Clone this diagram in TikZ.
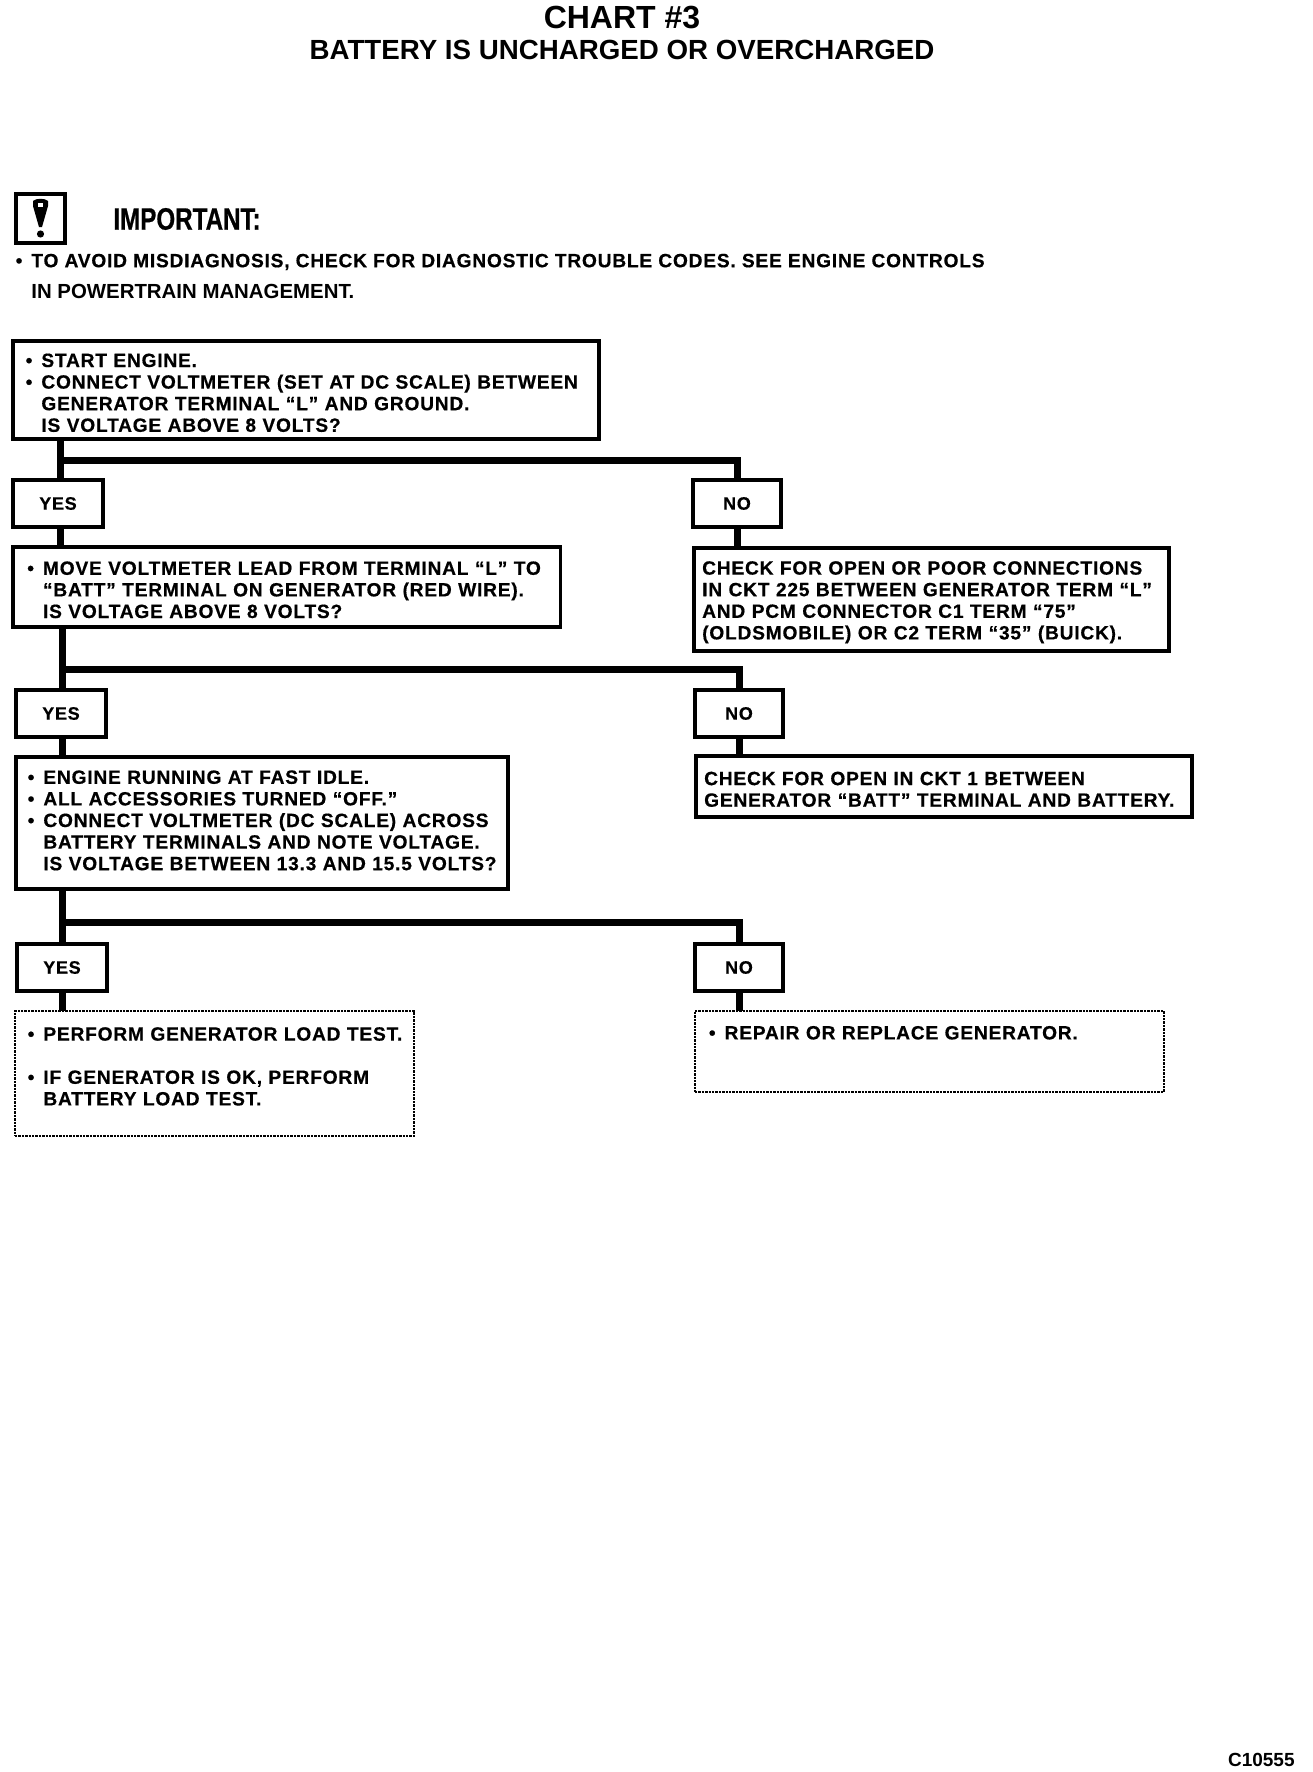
\documentclass[tikz,border=0pt]{standalone}
\usepackage{fontspec}
\setmainfont{Liberation Sans}[LetterSpace=4,BoldFont={Liberation Sans Bold},BoldFeatures={FakeBold=.5}]
\newfontfamily\plainfont{Liberation Sans Bold}
\newfontfamily\tightfont[FakeStretch=0.78,FakeBold=.6]{Liberation Sans Bold}
\usepackage{tikz}
\tikzstyle{qbox}=[draw, line width=1.7pt, outer sep=0pt, anchor=north west, align=left, inner xsep=3pt, inner ysep=0pt, font=\bfseries\fontsize{9.6}{10.8}\selectfont]
\tikzstyle{ansbox}=[draw, line width=1.7pt, outer sep=0pt, anchor=north west, inner sep=0pt, minimum width=45pt, minimum height=23.5pt, font=\bfseries\fontsize{9}{10.8}\selectfont]
\tikzstyle{endbox}=[qbox, line width=1.3pt, dash pattern=on 1.2pt off .5pt]
\tikzstyle{bar}=[line width=3.5pt]
\tikzset{hang/.style={execute at begin node={\leftskip=#1\rule{0pt}{9.5pt}}}}
\newcommand{\bul}{\leavevmode\llap{\textbullet\hspace{4.5pt}}}

\begin{document}
\begin{tikzpicture}[x=.5pt, y=-.5pt]
\useasboundingbox (0,0) rectangle (1312,1772);
% heading
\draw (622,18) node[font=\plainfont\fontsize{16}{16}\selectfont](title){CHART \#3};
\draw (622,50) node[font=\plainfont\fontsize{13.85}{14}\selectfont](subtitle){BATTERY IS UNCHARGED OR OVERCHARGED};
% warning
\draw[line width=2pt] (16,194) rectangle (65,243);
\fill (33,201) .. controls (36,198) and (45,198) .. (48,201) -- (48,206) -- (42,227) -- (39,227) -- (33,206) -- cycle;
\fill[white] (38,203) rectangle (43,207);
\fill (40.5,234) circle (3.6);
\draw (113,219) node[anchor=west, inner sep=0pt, font=\tightfont\fontsize{15.5}{16}\selectfont](important){IMPORTANT:};
\draw (31,262) node[anchor=west, inner sep=0pt, font=\bfseries\fontsize{9.6}{10.8}\selectfont](note){\bul TO AVOID MISDIAGNOSIS, CHECK FOR DIAGNOSTIC TROUBLE CODES. SEE ENGINE CONTROLS};
\draw (31,291) node[anchor=west, inner sep=0pt, font=\plainfont\fontsize{10.2}{10.8}\selectfont](note2){IN POWERTRAIN MANAGEMENT.};
% first test
\draw (13,341) node[qbox, minimum height=49pt, text width=287pt, hang=11.2pt](q1){\bul START ENGINE.\\\bul CONNECT VOLTMETER (SET AT DC SCALE) BETWEEN\\GENERATOR TERMINAL ``L'' AND GROUND.\\IS VOLTAGE ABOVE 8 VOLTS?};
\draw (13,480) node[ansbox](y1){YES};
\draw (693,480) node[ansbox, minimum width=44pt](n1){NO};
\draw (13,547) node[qbox, minimum height=40pt, text width=267.7pt, hang=12pt](q2){\bul MOVE VOLTMETER LEAD FROM TERMINAL ``L'' TO\\``BATT'' TERMINAL ON GENERATOR (RED WIRE).\\IS VOLTAGE ABOVE 8 VOLTS?};
\draw (694,548) node[qbox, minimum height=51.5pt, text width=231.5pt, hang=1.1pt](r1){CHECK FOR OPEN OR POOR CONNECTIONS\\IN CKT 225 BETWEEN GENERATOR TERM ``L''\\AND PCM CONNECTOR C1 TERM ``75''\\(OLDSMOBILE) OR C2 TERM ``35'' (BUICK).};
% second test
\draw (16,690) node[ansbox](y2){YES};
\draw (695,690) node[ansbox, minimum width=44pt](n2){NO};
\draw (16,757) node[qbox, minimum height=66pt, text width=240pt, hang=10.7pt](q3){\bul ENGINE RUNNING AT FAST IDLE.\\\bul ALL ACCESSORIES TURNED ``OFF.''\\\bul CONNECT VOLTMETER (DC SCALE) ACROSS\\BATTERY TERMINALS AND NOTE VOLTAGE.\\IS VOLTAGE BETWEEN 13.3 AND 15.5 VOLTS?\rule[-5.5pt]{0pt}{0pt}};
\draw (696,756) node[qbox, minimum height=30.5pt, text width=242pt, hang=1.1pt](r2){CHECK FOR OPEN IN CKT 1 BETWEEN\\GENERATOR ``BATT'' TERMINAL AND BATTERY.};
% third test
\draw (17,944) node[ansbox](y3){YES};
\draw (695,944) node[ansbox, minimum width=44pt](n3){NO};
\draw (15,1011) node[endbox, minimum height=62.5pt, text width=193.5pt, hang=11.2pt](e1){\bul PERFORM GENERATOR LOAD TEST.\\[10.8pt]\bul IF GENERATOR IS OK, PERFORM\\BATTERY LOAD TEST.\rule[-10pt]{0pt}{0pt}};
\draw (695,1011) node[endbox, minimum height=40.5pt, text width=228.5pt, hang=11.8pt](e2){\bul REPAIR OR REPLACE GENERATOR.\\[10.8pt]\ };
% connectors
\coordinate (t1) at (60,460);
\coordinate (b1) at (737,460);
\coordinate (t2) at (62,669);
\coordinate (b2) at (739,669);
\coordinate (t3) at (62,922);
\coordinate (b3) at (739,922);
\draw[bar] (q1.south -| t1)--(y1.north -| t1);
\draw[bar] (y1.south -| t1)--(q2.north -| t1);
\draw[bar] (t1)--(b1)--(n1.north -| b1);
\draw[bar] (n1.south -| b1)--(r1.north -| b1);
\draw[bar] (q2.south -| t2)--(y2.north -| t2);
\draw[bar] (y2.south -| t2)--(q3.north -| t2);
\draw[bar] (t2)--(b2)--(n2.north -| b2);
\draw[bar] (n2.south -| b2)--(r2.north -| b2);
\draw[bar] (q3.south -| t3)--(y3.north -| t3);
\draw[bar] (y3.south -| t3)--(e1.north -| t3);
\draw[bar] (t3)--(b3)--(n3.north -| b3);
\draw[bar] (n3.south -| b3)--(e2.north -| b3);
\draw (1295,1760) node[anchor=east, inner sep=0pt, font=\plainfont\fontsize{9.5}{10}\selectfont](code){C10555};
\end{tikzpicture}
\end{document}
